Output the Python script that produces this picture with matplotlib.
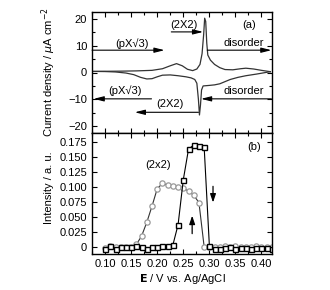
import numpy as np
import matplotlib
matplotlib.use("Agg")
import matplotlib.pyplot as plt
from matplotlib.ticker import MultipleLocator, FuncFormatter

plt.rcParams['font.family'] = ['Liberation Sans', 'DejaVu Sans']
plt.rcParams['font.size'] = 8

# (a) cyclic voltammogram, anodic (upper) branch
E_up = [0.075, 0.10, 0.13, 0.16, 0.19, 0.21, 0.225, 0.237, 0.248, 0.258, 0.268,
        0.276, 0.282, 0.286, 0.289, 0.291, 0.293, 0.295, 0.297, 0.302, 0.31,
        0.32, 0.33, 0.345, 0.36, 0.37, 0.385, 0.40, 0.417]
I_up = [0.4, 0.45, 0.5, 0.6, 0.8, 1.4, 2.5, 3.3, 2.5, 1.2, 0.7,
        1.3, 3.0, 7.0, 14.0, 20.2, 19.0, 11.0, 6.5, 4.6, 3.0,
        1.8, 1.1, 1.0, 1.4, 1.6, 1.3, 0.8, 0.3]

# cathodic (lower) branch
E_dn = [0.075, 0.10, 0.12, 0.14, 0.155, 0.168, 0.18, 0.19, 0.20, 0.21, 0.225,
        0.24, 0.255, 0.265, 0.272, 0.276, 0.279, 0.281, 0.283, 0.285, 0.288,
        0.30, 0.31, 0.32, 0.33, 0.34, 0.355, 0.37, 0.39, 0.417]
I_dn = [0.4, 0.35, 0.2, -0.2, -0.8, -1.8, -2.4, -2.3, -1.6, -1.0, -0.9,
        -1.2, -1.6, -2.0, -2.6, -4.0, -10.0, -15.8, -12.0, -6.5, -5.0,
        -4.8, -4.6, -4.2, -3.4, -2.6, -1.8, -1.2, -0.6, 0.3]

# (b) diffraction intensities
E_b = [0.10, 0.11, 0.12, 0.13, 0.14, 0.15, 0.16, 0.17, 0.18, 0.19, 0.20,
       0.21, 0.22, 0.23, 0.24, 0.25, 0.26, 0.27, 0.28, 0.29, 0.30,
       0.31, 0.32, 0.33, 0.34, 0.35, 0.36, 0.37, 0.38, 0.39, 0.40, 0.41, 0.42]
I_sq = [-0.004, 0.001, -0.003, 0.0, -0.001, 0.0, 0.001, 0.0, -0.004, -0.001, -0.001,
        0.001, 0.001, 0.003, 0.037, 0.112, 0.163, 0.170, 0.168, 0.167, 0.002,
        -0.003, -0.003, -0.002, -0.001, -0.003, -0.002, -0.002, -0.003, -0.002, -0.002, -0.002, -0.003]
I_ci = [-0.002, 0.001, -0.001, 0.0, -0.001, 0.0, 0.004, 0.018, 0.041, 0.068, 0.097,
        0.106, 0.103, 0.101, 0.100, 0.098, 0.093, 0.086, 0.074, 0.0, -0.001,
        0.0, -0.001, 0.001, 0.0, 0.001, 0.0, -0.001, 0.0, 0.001, 0.0, -0.001, 0.0]

fig = plt.figure(figsize=(3.3, 2.9), dpi=100)
ax1 = fig.add_axes([0.279, 0.5414, 0.545, 0.4172])
ax2 = fig.add_axes([0.279, 0.1241, 0.545, 0.4172])

for ax in (ax1, ax2):
    ax.tick_params(which='both', direction='in', top=True, right=True, width=0.8)
    ax.tick_params(which='major', length=3.5)
    ax.tick_params(which='minor', length=2)
    for s in ax.spines.values():
        s.set_linewidth(1.0)
    ax.set_xlim(0.075, 0.42)
    ax.xaxis.set_major_locator(MultipleLocator(0.05))
    ax.xaxis.set_minor_locator(MultipleLocator(0.025))

# top panel
ax1.plot(E_up, I_up, color='#333333', lw=0.9)
ax1.plot(E_dn, I_dn, color='#333333', lw=0.9)
ax1.set_ylim(-22.5, 22.5)
ax1.yaxis.set_major_locator(MultipleLocator(10))
ax1.yaxis.set_minor_locator(MultipleLocator(5))
ax1.tick_params(labelbottom=False)
ax1.yaxis.set_major_formatter(FuncFormatter(lambda v, p: f"{v:.0f}".replace('-', '\u2212')))
ax1.set_ylabel("Current density / $\\mu$A cm$^{-2}$")
ax1.yaxis.set_label_coords(-0.19, 0.5)

ap = dict(arrowstyle='-|>,head_length=0.6,head_width=0.15', lw=0.8, color='k',
          shrinkA=0, shrinkB=0, mutation_scale=10)
arrows = [((0.075, 8.3), (0.214, 8.3)),
          ((0.227, 15.1), (0.288, 15.1)),
          ((0.296, 8.3), (0.419, 8.3)),
          ((0.189, -9.8), (0.078, -9.8)),
          ((0.279, -14.8), (0.157, -14.8)),
          ((0.419, -9.8), (0.284, -9.8))]
for start, end in arrows:
    ax1.annotate("", xy=end, xytext=start, arrowprops=ap, annotation_clip=False)

labels = [(0.151, 10.8, "(pX\u221a3)"), (0.252, 17.8, "(2X2)"), (0.366, 10.8, "disorder"),
          (0.138, -6.7, "(pX\u221a3)"), (0.224, -11.8, "(2X2)"), (0.366, -6.7, "disorder"),
          (0.377, 17.5, "(a)")]
for x, y, t in labels:
    ax1.text(x, y, t, ha='center', va='center')

# bottom panel
ax2.plot(E_b, I_ci, color='#333333', lw=0.8, marker='o', ms=3.8,
         mfc='white', mec='#999999', mew=0.9)
ax2.plot(E_b, I_sq, color='k', lw=0.8, marker='s', ms=3.6,
         mfc='white', mec='k', mew=1.0)
ax2.set_ylim(-0.012, 0.19)
ax2.yaxis.set_major_locator(MultipleLocator(0.025))
ax2.yaxis.set_major_formatter(FuncFormatter(lambda v, p: "0" if abs(v) < 1e-9 else f"{v:.3f}"))
ax2.xaxis.set_major_formatter(FuncFormatter(lambda v, p: f"{v:.2f}"))
ax2.set_ylabel("Intensity / a. u.")
ax2.yaxis.set_label_coords(-0.21, 0.545)
ax2.set_xlabel("$\\mathbf{E}$ / V vs. Ag/AgCl", labelpad=2)

ap2 = dict(arrowstyle='-|>,head_length=0.5,head_width=0.17', lw=0.9, color='k',
           shrinkA=0, shrinkB=0, mutation_scale=10)
ax2.annotate("", xy=(0.267, 0.052), xytext=(0.267, 0.022), arrowprops=ap2)
ax2.annotate("", xy=(0.307, 0.074), xytext=(0.307, 0.101), arrowprops=ap2)
ax2.text(0.201, 0.136, "(2x2)", ha='center', va='center')
ax2.text(0.385, 0.167, "(b)", ha='center', va='center')

fig.savefig("out.png", dpi=100)
